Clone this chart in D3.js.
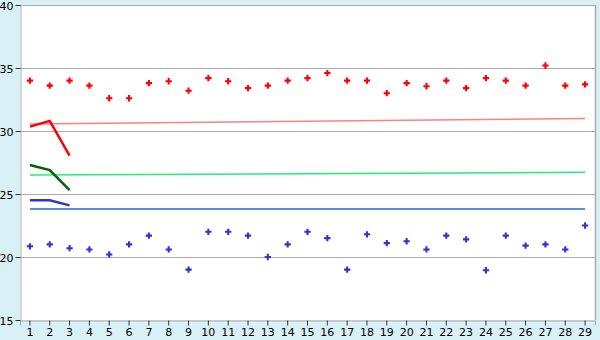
<!DOCTYPE html>
<html>
<head>
<meta charset="utf-8">
<script src="https://cdn.jsdelivr.net/npm/d3@7"></script>
<style>
  body { margin: 0; background: #d9f0f7; }
  svg { display: block; }
</style>
</head>
<body>
<div id="chart"></div>
<script>
// x categories
const days = ['1','2','3','4','5','6','7','8','9','10','11','12','13','14','15','16','17','18','19','20','21','22','23','24','25','26','27','28','29'];
const yTicks = [15, 20, 25, 30, 35, 40];

// scattered readings
const highs = [34.0, 33.6, 34.0, 33.6, 32.6, 32.6, 33.8, 33.95, 33.2, 34.2, 33.95, 33.4, 33.6, 34.0, 34.2, 34.6, 34.0, 34.0, 33.0, 33.8, 33.55, 34.0, 33.4, 34.2, 34.0, 33.6, 35.2, 33.6, 33.7];
const lows = [20.85, 21.0, 20.7, 20.6, 20.2, 21.0, 21.7, 20.6, 19.0, 22.0, 22.0, 21.7, 20.0, 21.0, 22.0, 21.5, 19.0, 21.8, 21.1, 21.25, 20.6, 21.7, 21.4, 18.95, 21.7, 20.9, 21.0, 20.6, 22.5];

// short thick lines, first three days
const redShort = [30.35, 30.8, 28.05];
const greenShort = [27.3, 26.9, 25.3];
const blueShort = [24.5, 24.5, 24.1];

// thin trend lines, first and last day
const redTrend = [30.55, 31.0];
const greenTrend = [26.5, 26.72];
const blueTrend = [23.8, 23.8];

const W = 600, H = 340;
const m = {left: 20, right: 5, top: 5, bottom: 20};

const svg = d3.select('#chart').append('svg')
  .attr('width', W).attr('height', H)
  .style('font-family', 'DejaVu Sans')
  .style('font-size', '11px');

const x = d3.scaleBand().domain(days).range([m.left, W - m.right]).padding(0);
const y = d3.scaleLinear().domain([15, 40]).range([H - m.bottom, m.top]);
const cx = d => x(d) + x.bandwidth() / 2;

// plot area
svg.append('rect')
  .attr('x', m.left).attr('y', m.top)
  .attr('width', W - m.left - m.right).attr('height', H - m.top - m.bottom)
  .attr('fill', '#fff');

// grid lines
svg.append('g').selectAll('line')
  .data(yTicks.filter(t => t > 15))
  .enter().append('line')
  .attr('x1', m.left).attr('x2', W - m.right)
  .attr('y1', d => Math.round(y(d)) + 0.5).attr('y2', d => Math.round(y(d)) + 0.5)
  .attr('stroke', '#aaa');

// right border
svg.append('line')
  .attr('x1', W - m.right + 0.5).attr('x2', W - m.right + 0.5)
  .attr('y1', m.top).attr('y2', H - m.bottom)
  .attr('stroke', '#aaa').attr('stroke-width', 1.5);

// y axis
const yAxis = svg.append('g')
  .attr('transform', `translate(${m.left + 0.5},0)`)
  .call(d3.axisLeft(y).tickValues(yTicks).tickSize(5).tickPadding(2).tickFormat(d3.format('d')));
yAxis.select('.domain').attr('stroke', '#aaa');
yAxis.selectAll('.tick line').attr('stroke', '#333');
yAxis.selectAll('text').attr('fill', '#000').attr('dy', '0.4em')
  .style('font-size', '11px').style('font-family', 'DejaVu Sans');

// x axis
const xAxis = svg.append('g')
  .attr('transform', `translate(0,${H - m.bottom + 0.5})`)
  .call(d3.axisBottom(x).tickSize(5).tickPadding(3));
xAxis.select('.domain').attr('stroke', '#aaa');
xAxis.selectAll('.tick line').attr('stroke', '#333');
xAxis.selectAll('text').attr('fill', '#000').style('font-size', '11px').style('font-family', 'DejaVu Sans');

// trend lines
const trends = [
  {vals: redTrend, color: '#ff8080'},
  {vals: greenTrend, color: '#22ee77'},
  {vals: blueTrend, color: '#1a6fd6'}
];
svg.append('g').selectAll('line')
  .data(trends)
  .enter().append('line')
  .attr('x1', cx(days[0])).attr('x2', cx(days[days.length - 1]))
  .attr('y1', d => y(d.vals[0])).attr('y2', d => y(d.vals[1]))
  .attr('stroke', d => d.color)
  .attr('stroke-width', 1.5);

// short thick lines
const shorts = [
  {vals: redShort, color: '#ff0000'},
  {vals: greenShort, color: '#006400'},
  {vals: blueShort, color: '#3333cc'}
];
const line = d3.line().x((d, i) => cx(days[i])).y(d => y(d));
svg.append('g').selectAll('path')
  .data(shorts)
  .enter().append('path')
  .attr('d', d => line(d.vals))
  .attr('fill', 'none')
  .attr('stroke', d => d.color)
  .attr('stroke-width', 2.5);

// markers
const cross = d3.symbol().type(d3.symbolCross).size(22);
const series = [
  {vals: highs, color: '#ff0000'},
  {vals: lows, color: '#3333cc'}
];
series.forEach(s => {
  svg.append('g').selectAll('path')
    .data(s.vals)
    .enter().append('path')
    .attr('d', cross)
    .attr('transform', (d, i) => `translate(${cx(days[i])},${y(d)})`)
    .attr('fill', s.color);
});
</script>
</body>
</html>
